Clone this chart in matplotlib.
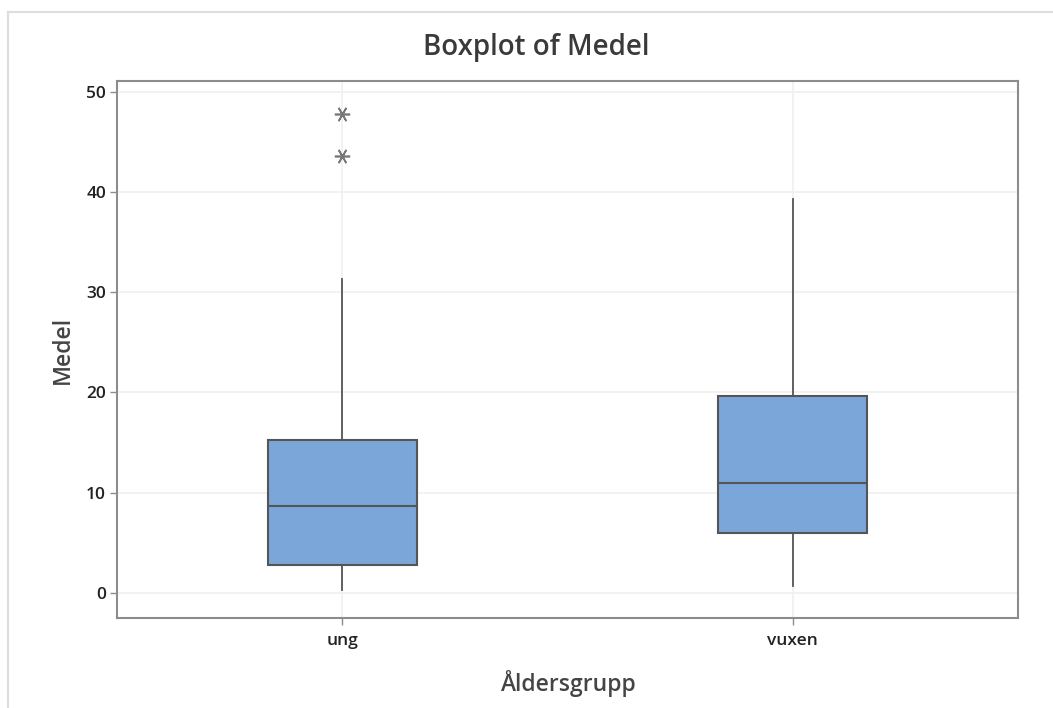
import matplotlib
matplotlib.use("Agg")
import matplotlib.pyplot as plt
from matplotlib.lines import Line2D

plt.rcParams['font.family'] = ['Open Sans', 'DejaVu Sans']

# Data
categories = ["ung", "vuxen"]
q1 = [2.8, 5.95]
median = [8.65, 11.0]
q3 = [15.25, 19.6]
whisker_low = [0.3, 0.7]
whisker_high = [31.3, 39.3]
outliers = [[43.6, 47.8], []]
y_ticks = [0, 10, 20, 30, 40, 50]

fig = plt.figure(figsize=(10.53, 7.08), dpi=100)
ax = fig.add_axes([117/1053, 1 - 618/708, (1018-117)/1053, (618-81)/708])

stats = []
for i, c in enumerate(categories):
    stats.append(dict(label=c, med=median[i], q1=q1[i], q3=q3[i],
                      whislo=whisker_low[i], whishi=whisker_high[i],
                      fliers=outliers[i]))

edge = "#555555"
ax.bxp(stats, positions=[1, 2], widths=0.33, patch_artist=True, showcaps=False,
       boxprops=dict(facecolor="#7BA6D9", edgecolor=edge, linewidth=1.5),
       medianprops=dict(color=edge, linewidth=1.5),
       whiskerprops=dict(color=edge, linewidth=1.3),
       flierprops=dict(marker=(6, 2, 90), markersize=11, markeredgecolor="#777777",
                       markerfacecolor="none", markeredgewidth=1.2, linestyle="none"),
       zorder=3)

ax.set_xlim(0.5, 2.5)
ax.set_ylim(-2.5, 51.05)
ax.set_yticks(y_ticks)
ax.set_xticks([1, 2])
ax.set_xticklabels(categories)

ax.grid(True, color="#f0f0f0", linewidth=1.2, zorder=0)
ax.set_axisbelow(True)

for s in ax.spines.values():
    s.set_color("#8c8c8c")
    s.set_linewidth(1.5)

ax.tick_params(axis="both", direction="out", length=5, width=1, color="#8c8c8c",
               labelsize=12.5, labelcolor="#222222")
ax.tick_params(axis="y", pad=3)
ax.tick_params(axis="x", pad=6)
for lab in ax.get_yticklabels() + ax.get_xticklabels():
    lab.set_fontweight("semibold")

ax.set_ylabel("Medel", fontsize=16.5, color="#444444", labelpad=8, fontweight="semibold")
ax.set_xlabel("Åldersgrupp", fontsize=16.5, color="#444444", labelpad=15, fontweight="semibold")
fig.text(536/1053, 1 - 48/708, "Boxplot of Medel", ha="center", va="center",
         fontsize=20, fontweight="semibold", color="#3a3a3a")

# outer frame lines of the screenshot
fig.add_artist(Line2D([8/1053, 1], [1 - 12/708, 1 - 12/708], color="#dddddd", linewidth=1.5))
fig.add_artist(Line2D([8/1053, 8/1053], [0, 1 - 12/708], color="#dddddd", linewidth=1.5))

fig.savefig("out.png", dpi=100)
